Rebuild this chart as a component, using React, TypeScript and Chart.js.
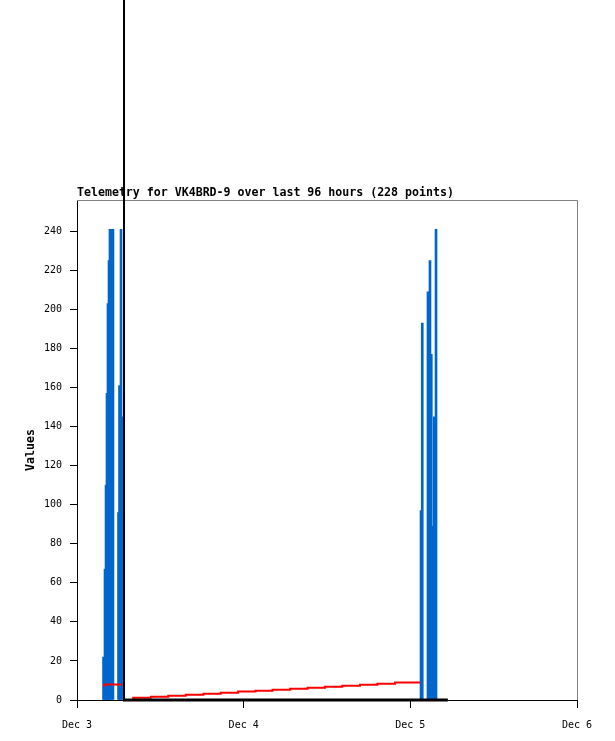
import React, { useEffect, useRef } from "react";
import { Chart, registerables } from "chart.js";

Chart.register(...registerables);

const titleText = "Telemetry for VK4BRD-9 over last 96 hours (228 points)";
const yAxisTitle = "Values";
const xTickLabels = ["Dec 3", "Dec 4", "Dec 5", "Dec 6"];
const xMaxHours = 72;
const xStepHours = 24;
const yMax = 256;
const yStep = 20;

// blue impulses (hours since Dec 3 00:00, value)
const barHours = [
  3.82, 4.03, 4.18, 4.32, 4.46, 4.61, 4.75, 4.97, 5.18,
  5.98, 6.12, 6.34, 6.48,
  49.54, 49.72, 50.54, 50.83, 51.02, 51.16, 51.34, 51.45, 51.7,
];
const barValues = [
  22, 67, 110, 157, 203, 225, 241, 241, 241,
  96, 161, 241, 145,
  97, 193, 209, 225, 177, 89, 49, 145, 241,
];

// red stepped series
const redLeftHours = [3.93, 5.86, 6.48];
const redLeftValues = [6.8, 8.0, 8.0];
const redRightHours = [
  8.1, 10.66, 13.15, 15.65, 18.2, 20.7, 23.2, 25.7, 28.15, 30.7, 33.2, 35.7,
  38.2, 40.75, 43.25, 45.8, 48.3, 49.4,
];
const redRightValues = [
  0.5, 1.2, 1.7, 2.2, 2.7, 3.2, 3.7, 4.3, 4.8, 5.3, 5.8, 6.3, 6.8, 7.3, 7.8,
  8.3, 8.9, 8.9,
];

// black zero series
const zeroHours = [6.62, 53.4];
const zeroValues = [0, 0];

// vertical marker
const markerHour = 6.77;

const FONT = "'DejaVu Sans Mono', 'Liberation Mono', monospace";

const pts = (xs: number[], ys: number[]) => xs.map((x, i) => ({ x, y: ys[i] }));

const framePlugin = {
  id: "frameMarker",
  afterDatasetsDraw(chart: any) {
    const { ctx, chartArea: a, scales } = chart;
    ctx.save();
    ctx.strokeStyle = "#808080";
    ctx.lineWidth = 1;
    ctx.beginPath();
    ctx.moveTo(a.left, a.top + 0.5);
    ctx.lineTo(a.right + 0.5, a.top + 0.5);
    ctx.lineTo(a.right + 0.5, a.bottom);
    ctx.stroke();
    const x = scales.x.getPixelForValue(markerHour);
    ctx.strokeStyle = "#000000";
    ctx.lineWidth = 2;
    ctx.beginPath();
    ctx.moveTo(x, 0);
    ctx.lineTo(x, a.bottom);
    ctx.stroke();
    ctx.restore();
  },
};

export default function App() {
  const ref = useRef<HTMLCanvasElement | null>(null);

  useEffect(() => {
    document.body.style.margin = "0";
    const canvas = ref.current;
    if (!canvas) return;
    const chart = new Chart(canvas, {
      type: "bar",
      data: {
        datasets: [
          {
            type: "line",
            data: pts(zeroHours, zeroValues),
            borderColor: "#000000",
            borderWidth: 3,
            pointRadius: 0,
            clip: false,
            order: 1,
          } as any,
          {
            type: "line",
            data: pts(redLeftHours, redLeftValues),
            borderColor: "#FF0000",
            borderWidth: 2,
            pointRadius: 0,
            stepped: "after",
            order: 2,
          } as any,
          {
            type: "line",
            data: pts(redRightHours, redRightValues),
            borderColor: "#FF0000",
            borderWidth: 2,
            pointRadius: 0,
            stepped: "after",
            order: 2,
          } as any,
          {
            type: "bar",
            data: pts(barHours, barValues),
            backgroundColor: "#0066CC",
            borderWidth: 0,
            barThickness: 2,
            grouped: false,
            order: 3,
          } as any,
        ],
      },
      options: {
        responsive: false,
        animation: false,
        layout: { padding: { left: 0, right: 38, top: 0, bottom: 0 } },
        plugins: {
          legend: { display: false },
          tooltip: { enabled: false },
          title: {
            display: true,
            text: titleText,
            align: "start",
            fullSize: false,
            color: "#000000",
            font: { family: FONT, size: 11.6, weight: "bold" },
            padding: { top: 186.1, bottom: 0 },
          },
        },
        scales: {
          x: {
            type: "linear",
            min: 0,
            max: xMaxHours,
            offset: false,
            afterFit: (s: any) => {
              s.height = 41;
            },
            ticks: {
              stepSize: xStepHours,
              color: "#000000",
              font: { family: FONT, size: 10 },
              padding: 11,
              maxRotation: 0,
              callback: (v: any) => xTickLabels[Math.round(Number(v) / xStepHours)] ?? "",
            },
            grid: {
              drawOnChartArea: false,
              drawTicks: true,
              tickLength: 8,
              color: "#000000",
              offset: false,
            },
            border: { display: true, color: "#000000", width: 1 },
          },
          y: {
            type: "linear",
            min: 0,
            max: yMax,
            afterFit: (s: any) => {
              s.width = 77;
            },
            afterBuildTicks: (s: any) => {
              s.ticks = s.ticks.filter((t: any) => t.value % yStep === 0);
            },
            ticks: {
              stepSize: yStep,
              color: "#000000",
              font: { family: FONT, size: 10 },
              padding: 8,
            },
            grid: {
              drawOnChartArea: false,
              drawTicks: true,
              tickLength: 7,
              color: "#000000",
            },
            border: { display: true, color: "#000000", width: 1 },
            title: {
              display: true,
              text: yAxisTitle,
              color: "#000000",
              font: { family: FONT, size: 11.6, weight: "bold" },
              padding: { top: 24, bottom: 0 },
            },
          },
        },
      },
      plugins: [framePlugin],
    });
    return () => chart.destroy();
  }, []);

  return (
    <canvas
      ref={ref}
      width={615}
      height={741}
      style={{ display: "block", width: 615, height: 741 }}
    />
  );
}
